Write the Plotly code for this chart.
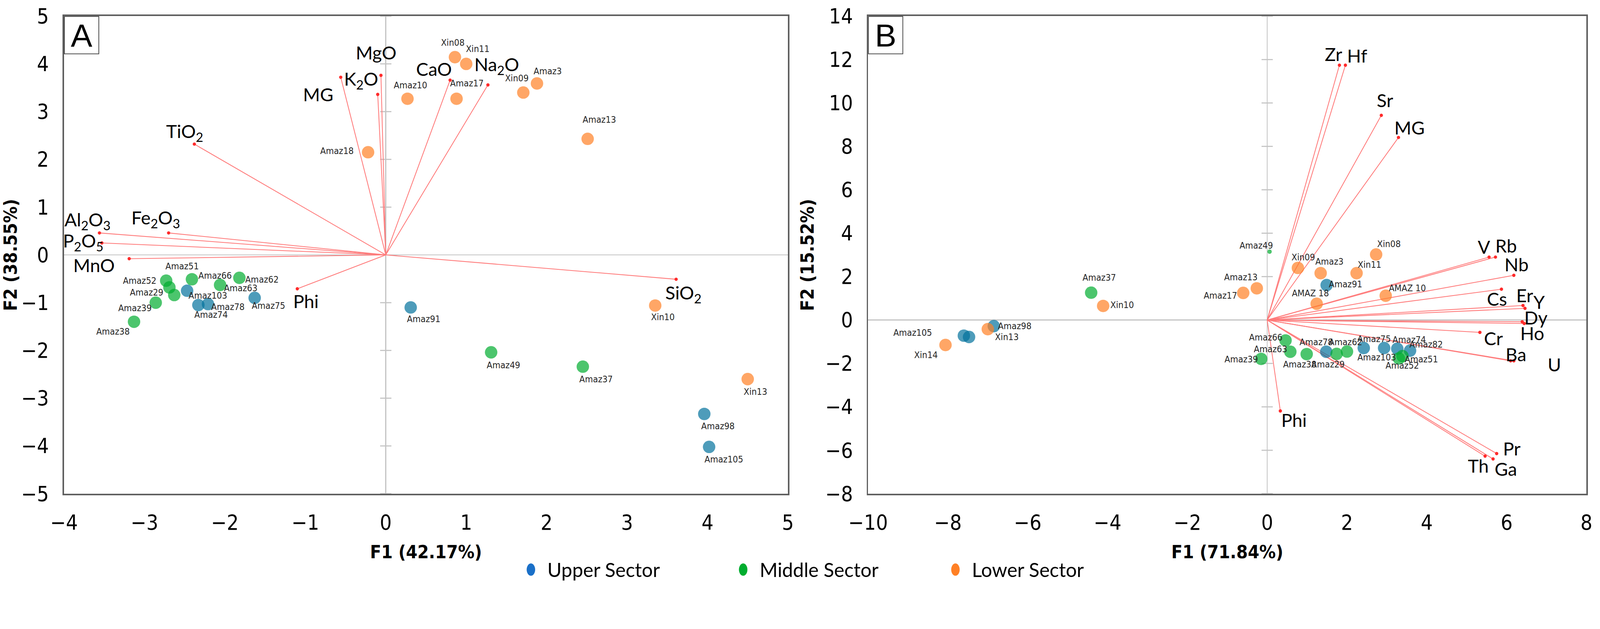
import plotly.graph_objects as go

# ======================= DATA =======================
# ---- Panel A : major oxides (F1 42.17 %, F2 38.55 %) ----
A_var_names = ["MgO", "K<sub>2</sub>O", "MG", "TiO<sub>2</sub>", "Al<sub>2</sub>O<sub>3</sub>",
               "Fe<sub>2</sub>O<sub>3</sub>", "P<sub>2</sub>O<sub>5</sub>", "MnO", "Phi",
               "CaO", "Na<sub>2</sub>O", "SiO<sub>2</sub>"]
A_var_f1 = [-0.06, -0.10, -0.56, -2.38, -3.56, -2.70, -3.53, -3.19, -1.10, 0.80, 1.27, 3.61]
A_var_f2 = [3.76, 3.36, 3.72, 2.32, 0.46, 0.46, 0.25, -0.08, -0.71, 3.66, 3.56, -0.51]

A_upper_names = ["Amaz103", "Amaz74", "Amaz78", "Amaz75", "Amaz91", "Amaz98", "Amaz105"]
A_upper_f1 = [-2.47, -2.33, -2.21, -1.63, 0.31, 3.96, 4.02]
A_upper_f2 = [-0.75, -1.05, -1.03, -0.90, -1.10, -3.33, -4.02]

A_middle_names = ["Amaz52", "Amaz51", "Amaz29", "Amaz66", "Amaz63", "Amaz62", "Amaz39", "Amaz38", "Amaz49", "Amaz37"]
A_middle_f1 = [-2.73, -2.69, -2.63, -2.41, -2.06, -1.82, -2.86, -3.13, 1.31, 2.45]
A_middle_f2 = [-0.54, -0.68, -0.84, -0.51, -0.63, -0.48, -1.00, -1.40, -2.04, -2.34]

A_lower_names = ["Amaz18", "Amaz10", "Xin08", "Xin11", "Amaz17", "Xin09", "Amaz3", "Amaz13", "Xin10", "Xin13"]
A_lower_f1 = [-0.22, 0.27, 0.86, 1.00, 0.88, 1.71, 1.88, 2.51, 3.35, 4.50]
A_lower_f2 = [2.15, 3.27, 4.14, 4.00, 3.27, 3.40, 3.59, 2.43, -1.06, -2.60]

A_xticks = [-4, -3, -2, -1, 0, 1, 2, 3, 4, 5]
A_yticks = [-5, -4, -3, -2, -1, 0, 1, 2, 3, 4, 5]

# ---- Panel B : trace elements (F1 71.84 %, F2 15.52 %) ----
B_var_names = ["Zr", "Hf", "Sr", "MG", "V", "Rb", "Nb", "Cs", "Er", "Y", "Dy", "Ho",
               "Cr", "Ba", "U", "Pr", "Th", "Ga", "Phi"]
B_var_f1 = [1.81, 1.96, 2.86, 3.29, 5.56, 5.72, 6.18, 5.87, 6.41, 6.46, 6.39, 6.44,
            5.33, 6.10, 6.18, 5.75, 5.46, 5.66, 0.33]
B_var_f2 = [11.74, 11.74, 9.43, 8.41, 2.90, 2.90, 2.06, 1.42, 0.67, 0.54, -0.08, -0.16,
            -0.57, -1.88, -1.88, -6.15, -6.27, -6.40, -4.19]

B_upper_names = ["Amaz91", "Amaz78", "Amaz75", "Amaz103", "Amaz74", "Amaz82", "Amaz105", "", "Amaz98"]
B_upper_f1 = [1.49, 1.48, 2.42, 2.93, 3.26, 3.58, -7.60, -7.47, -6.85]
B_upper_f2 = [1.61, -1.46, -1.29, -1.29, -1.32, -1.41, -0.72, -0.78, -0.28]

B_middle_names = ["Amaz49", "Amaz66", "Amaz63", "Amaz39", "Amaz38", "Amaz29", "Amaz62", "Amaz52", "Amaz51", "Amaz37"]
B_middle_f1 = [0.06, 0.46, 0.58, -0.15, 0.99, 1.74, 2.00, 3.30, 3.39, -4.41]
B_middle_f2 = [3.15, -0.94, -1.46, -1.79, -1.57, -1.56, -1.45, -1.77, -1.66, 1.26]

B_lower_names = ["Xin08", "Xin09", "Amaz3", "Xin11", "Amaz13", "Amaz17", "AMAZ 18", "AMAZ 10", "Xin10", "Xin13", "Xin14"]
B_lower_f1 = [2.73, 0.77, 1.34, 2.24, -0.26, -0.60, 1.24, 2.97, -4.11, -7.00, -8.06]
B_lower_f2 = [3.02, 2.40, 2.16, 2.16, 1.46, 1.25, 0.75, 1.12, 0.65, -0.42, -1.15]

B_xticks = [-10, -8, -6, -4, -2, 0, 2, 4, 6, 8]
B_yticks = [-8, -6, -4, -2, 0, 2, 4, 6, 8, 10, 12, 14]

sector_names = ["Upper Sector", "Middle Sector", "Lower Sector"]

# ======================= STYLE =======================
W, H = 4372, 1609
COL_DOT = {"Upper Sector": "#03729c", "Middle Sector": "#00ad2f", "Lower Sector": "#ff8025"}
COL_LEG = {"Upper Sector": "#1a70c8", "Middle Sector": "#00ad2f", "Lower Sector": "#ff8025"}
VEC_LINE = "#ff7a7a"
VEC_END = "#ff2b2b"
ZERO_COL = "#c4c4c4"
FRAME_COL = "#5f5f5f"
NARROW = "Liberation Sans Narrow, Arial Narrow, DejaVu Sans Condensed, Roboto Condensed, Roboto, sans-serif"
HUMAN = "Lato, Open Sans, sans-serif"
DOT_SIZE = 34
SMALL_DOT = {"B": {"Amaz49": 12}}

# pixel offsets (x, y-up) of each label relative to its point
SAMPLE_SHIFT = {
    "A": {"Amaz52": (-72, 0), "Amaz51": (35, 58), "Amaz66": (64, 10), "Amaz62": (62, -5),
          "Amaz63": (57, -8), "Amaz29": (-75, 7), "Amaz39": (-57, -15), "Amaz38": (-57, -27),
          "Amaz103": (57, -13), "Amaz78": (55, -7), "Amaz74": (35, -27), "Amaz75": (38, -21),
          "Amaz91": (36, -32), "Amaz49": (34, -35), "Amaz37": (36, -34), "Xin10": (21, -31),
          "Xin13": (21, -34), "Amaz98": (38, -33), "Amaz105": (40, -34), "Amaz18": (-85, 3),
          "Amaz10": (9, 37), "Xin08": (-6, 40), "Xin11": (32, 41), "Amaz17": (28, 42),
          "Xin09": (-17, 39), "Amaz3": (29, 33), "Amaz13": (32, 53)},
    "B": {"Xin08": (35, 28), "Xin09": (15, 29), "Amaz3": (24, 31), "Xin11": (36, 23),
          "Amaz13": (-43, 31), "Amaz17": (-62, -7), "AMAZ 18": (-17, 29), "AMAZ 10": (59, 21),
          "Amaz91": (52, 2), "Amaz49": (-36, 17), "Amaz66": (-54, 8), "Amaz63": (-54, 7),
          "Amaz39": (-54, -1), "Amaz38": (-19, -28), "Amaz29": (-23, -28), "Amaz62": (-4, 25),
          "Amaz78": (-27, 26), "Amaz75": (29, 25), "Amaz103": (-20, -25), "Amaz74": (33, 25),
          "Amaz82": (44, 17), "Amaz51": (52, -8), "Amaz52": (10, -20), "Amaz37": (22, 42),
          "Xin10": (52, 3), "Xin14": (-53, -28), "Xin13": (52, -22), "Amaz105": (-140, 8),
          "Amaz98": (57, 0)},
}
VAR_SHIFT = {
    "A": [(-13, 63), (-46, 39), (-62, -47), (-27, 32), (-33, 34), (-35, 39), (-51, 3),
          (-97, -18), (24, -33), (-44, 31), (24, 53), (20, -40)],
    "B": [(-16, 30), (32, 26), (10, 41), (30, 27), (-14, 28), (29, 31), (7, 30), (-12, -26),
          (4, 28), (39, 18), (38, 12), (22, -27), (37, -16), (15, 18), (111, -10),
          (41, 14), (-19, -27), (35, -27), (37, -25)],
}

# ======================= FIGURE =======================
fig = go.Figure()

panels = {
    "A": dict(xa="x", ya="y", vn=A_var_names, vx=A_var_f1, vy=A_var_f2,
              sectors=[(A_upper_names, A_upper_f1, A_upper_f2),
                       (A_middle_names, A_middle_f1, A_middle_f2),
                       (A_lower_names, A_lower_f1, A_lower_f2)],
              yt=A_yticks),
    "B": dict(xa="x2", ya="y2", vn=B_var_names, vx=B_var_f1, vy=B_var_f2,
              sectors=[(B_upper_names, B_upper_f1, B_upper_f2),
                       (B_middle_names, B_middle_f1, B_middle_f2),
                       (B_lower_names, B_lower_f1, B_lower_f2)],
              yt=B_yticks),
}

annotations = []
for key, p in panels.items():
    # small tick marks on the vertical zero line
    yt = [v for v in p["yt"] if v != 0]
    fig.add_trace(go.Scatter(x=[0] * len(yt), y=yt, mode="markers", xaxis=p["xa"], yaxis=p["ya"],
                             marker=dict(symbol="line-ew", size=22, line=dict(width=3, color=ZERO_COL)),
                             showlegend=False, hoverinfo="skip"))
    # loading vectors
    lx, ly = [], []
    for vx, vy in zip(p["vx"], p["vy"]):
        lx += [0, vx, None]
        ly += [0, vy, None]
    fig.add_trace(go.Scatter(x=lx, y=ly, mode="lines", xaxis=p["xa"], yaxis=p["ya"],
                             line=dict(color=VEC_LINE, width=2.2), showlegend=False, hoverinfo="skip"))
    fig.add_trace(go.Scatter(x=p["vx"], y=p["vy"], mode="markers", xaxis=p["xa"], yaxis=p["ya"],
                             marker=dict(color=VEC_END, size=9), showlegend=False, hoverinfo="skip"))
    for name, vx, vy, (dx, dy) in zip(p["vn"], p["vx"], p["vy"], VAR_SHIFT[key]):
        annotations.append(dict(x=vx, y=vy, xref=p["xa"], yref=p["ya"], text=name, showarrow=False,
                                xshift=dx, yshift=dy, font=dict(family=HUMAN, size=50, color="#000")))
    # sample scores
    for sec, (names, f1, f2) in zip(sector_names, p["sectors"]):
        sizes = [SMALL_DOT.get(key, {}).get(n, DOT_SIZE) for n in names]
        fig.add_trace(go.Scatter(x=f1, y=f2, mode="markers", xaxis=p["xa"], yaxis=p["ya"],
                                 marker=dict(color=COL_DOT[sec], size=sizes, line=dict(width=0)),
                                 showlegend=False, name=sec, hoverinfo="skip"))
        for n, x, y in zip(names, f1, f2):
            if not n:
                continue
            dx, dy = SAMPLE_SHIFT[key].get(n, (0, -30))
            annotations.append(dict(x=x, y=y, xref=p["xa"], yref=p["ya"], text=n, showarrow=False,
                                    xshift=dx, yshift=dy,
                                    font=dict(family=NARROW, size=25, color="#262626")))

# legend-only entries
for sec in sector_names:
    fig.add_trace(go.Scatter(x=[None], y=[None], mode="markers", name=sec,
                             marker=dict(color=COL_LEG[sec], size=30)))

# panel letters
for letter, xr, yr in [("A", "x domain", "y domain"), ("B", "x2 domain", "y2 domain")]:
    annotations.append(dict(x=0, y=1, xref=xr, yref=yr, xanchor="left", yanchor="top", text=letter,
                            showarrow=False, font=dict(family="Liberation Sans, Arial, sans-serif", size=88, color="#000"),
                            bordercolor="#404040", borderwidth=2, borderpad=0, width=92, height=100,
                            bgcolor="white"))

axis_common = dict(showgrid=False, zeroline=True, zerolinecolor=ZERO_COL, zerolinewidth=3,
                   showline=True, mirror=True, linecolor=FRAME_COL, linewidth=4, ticks="",
                   tickfont=dict(family=NARROW, size=57, color="#000"),
                   ticklabelstandoff=26)
title_font = dict(family=NARROW, size=50, color="#000", weight="bold")

L, R, T, B = 175, 37, 44, 261
pw = W - L - R
dA = (2153 - L) / pw
dB = (2372 - L) / pw

fig.update_layout(
    width=W, height=H, paper_bgcolor="white", plot_bgcolor="white",
    margin=dict(l=L, r=R, t=T, b=B),
    xaxis=dict(domain=[0, dA], range=[-4, 5], tickvals=A_xticks, anchor="y",
               title=dict(text="F1 (42.17%)", font=title_font, standoff=32), **axis_common),
    yaxis=dict(domain=[0, 1], range=[-5, 5], tickvals=A_yticks, anchor="x",
               title=dict(text="F2 (38.55%)", font=title_font, standoff=10), **axis_common),
    xaxis2=dict(domain=[dB, 1], range=[-10, 8], tickvals=B_xticks, anchor="y2",
                title=dict(text="F1 (71.84%)", font=title_font, standoff=32), **axis_common),
    yaxis2=dict(domain=[0, 1], range=[-8, 14], tickvals=B_yticks, anchor="x2",
                title=dict(text="F2 (15.52%)", font=title_font, standoff=16), **axis_common),
    legend=dict(orientation="h", x=0.517, xanchor="center", y=-0.159, yanchor="middle",
                font=dict(family=HUMAN, size=53, color="#000"), itemsizing="trace",
                entrywidth=535, entrywidthmode="pixels", bgcolor="rgba(0,0,0,0)"),
    annotations=annotations,
    showlegend=True,
)

post = """
document.documentElement.style.margin='0';
document.body.style.margin='0';
document.body.style.overflow='hidden';
var gd = document.getElementById('{plot_id}');
var s = Math.min(window.innerWidth / %d, window.innerHeight / %d);
gd.style.transformOrigin = '0 0';
gd.style.transform = 'scale(' + s + ')';
gd.querySelectorAll('.legend [clip-path]').forEach(function(el) {
    el.removeAttribute('clip-path');
});
gd.querySelectorAll('.legend .legendpoints path').forEach(function(p) {
    p.setAttribute('transform', 'translate(-5,0) scale(1.45,2.1)');
});
""" % (W, H)

fig.write_html("out.html", post_script=post, config={"displayModeBar": False})
